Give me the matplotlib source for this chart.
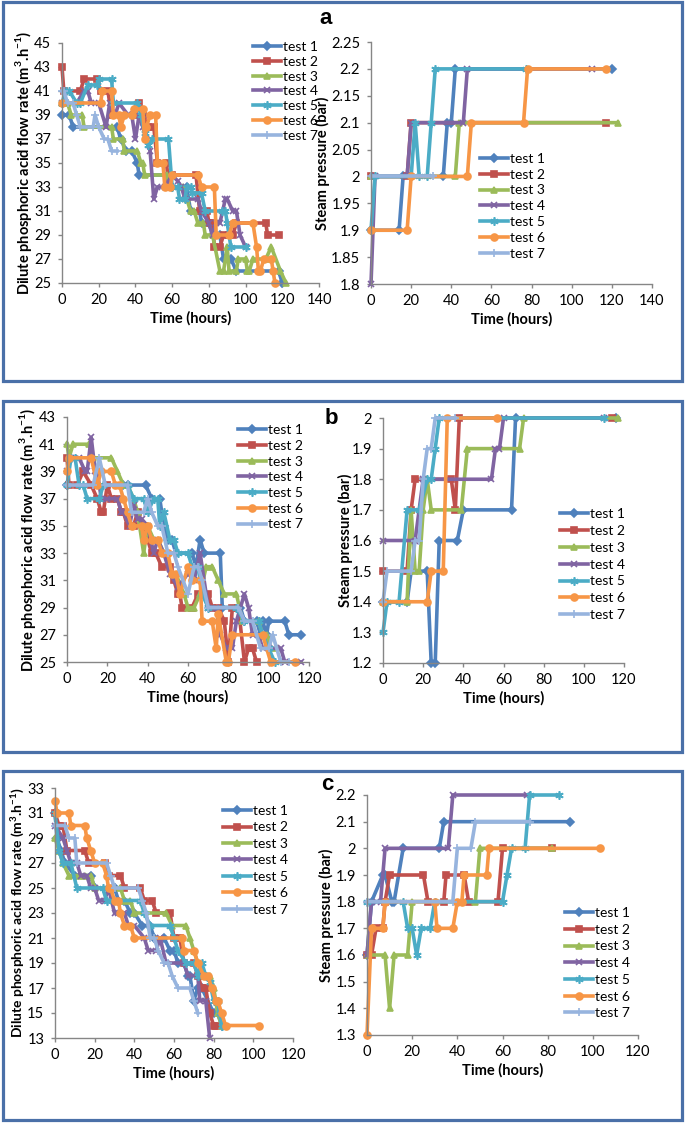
import matplotlib
matplotlib.use("Agg")
import matplotlib.pyplot as plt
from matplotlib.patches import Rectangle

plt.rcParams['font.family'] = ['Lato', 'DejaVu Sans']
plt.rcParams['mathtext.fontset'] = 'custom'
plt.rcParams['mathtext.rm'] = 'Lato'
plt.rcParams['mathtext.bf'] = 'Lato:bold'

W, H = 685, 1123

TESTS = ["test 1", "test 2", "test 3", "test 4", "test 5", "test 6", "test 7"]

# ---------------- Panel a : flow rate ----------------
A_FLOW_TIME = [
    [0, 4, 6, 30, 32, 35, 38, 41, 42, 58, 60, 68, 70, 75, 76, 80, 82, 86, 88, 92, 95, 118, 120],
    [0, 1, 10, 12, 19, 21, 25, 27, 39, 42, 44, 47, 50, 52, 57, 58, 60, 73, 75, 79, 80, 82, 83, 86, 88, 91, 93, 95, 111, 112, 118],
    [0, 3, 5, 11, 12, 27, 28, 33, 34, 41, 43, 44, 45, 57, 59, 66, 68, 70, 72, 74, 77, 78, 82, 86, 88, 90, 91, 95, 96, 100, 101, 102, 104, 111, 114, 119, 122],
    [0, 8, 12, 14, 16, 20, 24, 26, 29, 31, 36, 38, 40, 42, 44, 46, 48, 50, 52, 56, 60, 63, 65, 67, 74, 76, 80, 82, 84, 86, 89, 90, 93, 95, 97, 100],
    [0, 2, 4, 8, 10, 14, 19, 20, 27, 28, 41, 43, 45, 47, 49, 58, 60, 63, 64, 67, 68, 70, 71, 76, 78, 87, 89, 90, 92, 100],
    [0, 21, 22, 27, 28, 31, 32, 34, 38, 39, 44, 45, 46, 48, 51, 52, 55, 56, 59, 60, 74, 76, 83, 84, 91, 93, 104, 106, 107, 108, 110, 114, 115, 116],
    [0, 1, 3, 6, 8, 10, 17, 18, 20, 23, 25, 27, 30],
]
A_FLOW_VALUE = [
    [39, 39, 38, 38, 37, 36, 36, 35, 34, 34, 33, 33, 31, 31, 30, 30, 29, 29, 27, 27, 26, 26, 25],
    [43, 41, 41, 42, 42, 41, 41, 39, 39, 40, 39, 38, 38, 35, 35, 33, 34, 34, 31, 31, 30, 30, 28, 28, 29, 29, 29, 30, 30, 29, 29],
    [40, 40, 39, 39, 38, 38, 37, 37, 36, 36, 35, 35, 34, 34, 33, 33, 32, 31, 31, 30, 30, 29, 29, 26, 26, 28, 26, 26, 27, 27, 26, 26, 27, 27, 28, 26, 25],
    [40, 40, 41, 41, 40, 40, 38, 40, 39, 40, 39, 39, 37, 39, 38, 37, 36, 32, 33, 33, 34, 33.5, 33, 32, 32, 31, 30, 29, 30, 30, 32, 32, 31, 31, 29, 28],
    [40, 41, 41, 40, 40, 41.5, 41.5, 42, 42, 40, 40, 39, 37.5, 36.5, 37, 37, 33, 33, 32, 32, 33, 33, 32.5, 32.5, 31, 31, 31, 30, 28, 28],
    [40, 40, 41, 41, 39, 39, 38, 39, 39, 39.5, 39.5, 37, 38, 39, 39, 35, 35, 33, 33, 34, 34, 33, 33, 29, 29, 30, 30, 28, 26, 26, 27, 27, 26, 25],
    [41, 41, 40, 40, 39, 38, 38, 39, 38, 37, 37, 36, 36],
]

# ---------------- Panel a : steam pressure ----------------
A_STEAM_TIME = [
    [0, 14, 16, 36, 38, 40, 42, 120],
    [0, 18, 20, 117],
    [0, 42, 44, 123],
    [0, 2, 18, 20, 46, 48, 110],
    [0, 2, 20, 22, 24, 28, 30, 32, 77],
    [0, 18, 20, 48, 50, 76, 78, 117],
    [0, 31],
]
A_STEAM_VALUE = [
    [1.9, 1.9, 2.0, 2.0, 2.1, 2.1, 2.2, 2.2],
    [2.0, 2.0, 2.1, 2.1],
    [2.0, 2.0, 2.1, 2.1],
    [1.8, 2.0, 2.0, 2.1, 2.1, 2.2, 2.2],
    [1.9, 2.0, 2.0, 2.1, 2.0, 2.0, 2.1, 2.2, 2.2],
    [1.9, 1.9, 2.0, 2.0, 2.1, 2.1, 2.2, 2.2],
    [2.0, 2.0],
]

# ---------------- Panel b : flow rate ----------------
B_FLOW_TIME = [
    [0, 28, 30, 39, 42, 46, 48, 50, 52, 54, 62, 64, 66, 68, 76, 77, 86, 88, 94, 96, 97, 99, 100, 108, 110, 116],
    [0, 1, 5, 8, 12, 15, 17, 18, 20, 22, 25, 27, 28, 30, 33, 35, 38, 40, 42, 44, 47, 51, 53, 55, 56, 57, 62, 65, 70, 72, 75, 78, 80, 82, 85, 88, 90, 92, 94],
    [0, 1, 3, 11, 13, 22, 25, 28, 30, 33, 35, 38, 40, 43, 45, 48, 52, 55, 58, 60, 63, 66, 69, 72, 75, 78, 84, 87, 95, 97, 99, 101, 104],
    [0, 2, 6, 9, 10, 12, 14, 15, 17, 20, 25, 27, 28, 31, 33, 35, 37, 40, 43, 45, 48, 51, 55, 60, 63, 66, 70, 74, 76, 79, 82, 84, 88, 90, 92, 95, 97, 100, 106, 108, 116],
    [0, 2, 4, 6, 8, 10, 16, 18, 30, 33, 38, 40, 43, 45, 46, 48, 51, 53, 55, 60, 62, 65, 67, 70, 84, 88, 95, 97, 100, 103],
    [0, 1, 12, 15, 17, 22, 24, 26, 28, 30, 32, 37, 38, 40, 42, 45, 47, 50, 52, 54, 56, 60, 62, 66, 67, 72, 74, 75, 79, 80, 82, 97, 101, 113],
    [0, 13, 16, 19, 30, 32, 38, 40, 42, 45, 47, 50, 53, 55, 60, 63, 65, 67, 70, 85, 88, 92, 96, 100, 102, 106, 110],
]
B_FLOW_VALUE = [
    [38, 38, 38, 38, 37, 37, 35, 34, 34, 33, 33, 32, 34, 33, 33, 29, 29, 28, 28, 27, 28, 27, 28, 28, 27, 27],
    [40, 38, 38, 39, 38, 37, 36, 36, 38, 37, 37, 36, 36, 35, 35, 36, 35, 34, 33, 33, 32, 32, 31, 30, 30, 29, 29, 30, 30, 29, 29, 28, 25, 29, 29, 25, 26, 26, 25],
    [41, 40, 41, 41, 40, 40, 39, 38, 38, 37, 36, 33, 35, 34, 34, 33, 31.5, 31, 30, 29, 29, 30, 32, 32, 31, 30, 30, 28, 28, 27, 27, 26, 26],
    [39, 40, 40, 39, 39, 41.5, 39, 39, 37, 37, 37, 36, 36, 35, 36.5, 35.5, 35.5, 35, 33, 34, 33, 31.5, 30.5, 31.5, 31, 33, 29, 29, 27, 26, 26, 28, 30, 29, 27, 27, 26, 26, 26, 25, 25],
    [38, 40, 40, 38, 38, 37, 37, 38, 38, 37, 37, 36, 37, 37, 35, 36, 34, 34, 33, 33, 32, 32, 30, 29, 29, 28, 28, 27, 26, 25],
    [39, 40, 40, 38, 39, 39, 38, 38, 37, 36, 35, 35, 34, 35, 34, 34, 33, 33, 31.5, 31.5, 30, 32, 31, 31, 28, 28, 26, 28.5, 25, 25, 27, 27, 25, 25],
    [38, 38, 40, 38, 38, 36, 36, 37, 36, 35, 35, 33, 33, 32, 30, 32, 32, 31, 29, 29, 28, 28, 26, 26, 27, 25, 25],
]

# ---------------- Panel b : steam pressure ----------------
B_STEAM_TIME = [
    [0, 12, 14, 22, 24, 26, 28, 37, 40, 64, 66, 116],
    [0, 12, 14, 16, 34, 36, 38, 114],
    [0, 12, 14, 16, 18, 20, 22, 24, 39, 42, 68, 70, 117],
    [0, 16, 20, 54, 56, 58, 60, 110],
    [0, 2, 8, 12, 18, 22, 24, 26, 28, 110],
    [0, 22, 24, 30, 32, 57],
    [0, 2, 14, 16, 18, 20, 22, 24, 26, 36],
]
B_STEAM_VALUE = [
    [1.4, 1.4, 1.5, 1.5, 1.2, 1.2, 1.6, 1.6, 1.7, 1.7, 2.0, 2.0],
    [1.5, 1.5, 1.7, 1.8, 1.8, 1.7, 2.0, 2.0],
    [1.4, 1.4, 1.7, 1.5, 1.5, 1.7, 1.8, 1.7, 1.7, 1.9, 1.9, 2.0, 2.0],
    [1.6, 1.6, 1.8, 1.8, 1.9, 1.9, 2.0, 2.0],
    [1.3, 1.4, 1.4, 1.7, 1.7, 1.8, 1.8, 1.9, 2.0, 2.0],
    [1.4, 1.4, 1.5, 1.5, 2.0, 2.0],
    [1.4, 1.5, 1.5, 1.6, 1.6, 1.8, 1.9, 1.9, 2.0, 2.0],
]

# ---------------- Panel c : flow rate ----------------
C_FLOW_TIME = [
    [0, 1, 3, 5, 10, 18, 20, 30, 32, 35, 38, 40, 44, 48, 50, 55, 58, 60, 62, 65, 67, 68, 70, 72, 74, 80, 82, 84],
    [0, 2, 4, 6, 15, 17, 25, 27, 33, 35, 43, 45, 49, 51, 58, 60, 63, 65, 70, 72, 74, 76, 78, 80, 81],
    [0, 2, 4, 7, 12, 15, 18, 20, 33, 35, 38, 40, 56, 59, 66, 68, 70, 72, 75, 78, 80, 82, 84],
    [0, 4, 6, 8, 11, 13, 16, 18, 20, 22, 25, 27, 30, 32, 35, 37, 40, 45, 47, 51, 53, 56, 65, 67, 72, 73, 76, 78],
    [0, 2, 4, 8, 11, 24, 26, 43, 45, 48, 58, 60, 62, 66, 70, 72, 74, 76, 78, 80, 82, 83, 84],
    [0, 1, 7, 8, 15, 16, 18, 20, 24, 26, 27, 28, 30, 32, 33, 35, 38, 40, 64, 65, 70, 72, 75, 77, 79, 81, 82, 84, 86, 103],
    [0, 5, 7, 10, 11, 26, 28, 30, 42, 44, 46, 48, 50, 52, 55, 57, 59, 62, 68, 70, 72],
]
C_FLOW_VALUE = [
    [31, 29, 28, 27, 26, 26, 25, 25, 24, 24, 23, 23, 22, 22, 21, 21, 20, 20, 19, 19, 18, 18, 16, 17, 17, 15, 15, 14],
    [31, 30, 30, 28, 28, 27, 27, 26, 26, 25, 25, 24, 24, 23, 23, 21, 21, 19, 19, 18, 17, 17, 15, 14, 14],
    [29, 28, 27, 26, 26, 26, 26, 25, 25, 24, 24, 23, 23, 22, 22, 21, 20, 19, 18, 18, 17, 15, 14],
    [30, 29, 28, 27, 27, 26, 26, 25, 25, 24, 24, 25, 23, 23, 23, 22, 22, 21, 20, 20, 21, 19, 19, 18, 18, 16, 16, 13],
    [31, 28, 27, 27, 25, 25, 24, 24, 23, 22, 22, 21, 20, 19, 19, 18, 19, 18, 17.5, 16, 16, 15, 14],
    [32, 31, 31, 30, 30, 29, 28, 27, 27, 26, 25, 25, 24, 24, 23, 22, 22, 21, 21, 20, 20, 19, 18, 18, 17, 16, 16, 15, 14, 14],
    [30, 30, 29, 29, 27, 27, 26, 25, 25, 24, 23, 21, 21, 20, 19, 19, 18, 17, 17, 16, 15],
]

# ---------------- Panel c : steam pressure ----------------
C_STEAM_TIME = [
    [0, 2, 7, 8, 11, 12, 16, 32, 34, 90],
    [0, 2, 4, 7, 8, 10, 25, 27, 34, 35, 43, 45, 58, 60, 82],
    [0, 8, 10, 12, 18, 20, 48, 50, 82],
    [0, 2, 6, 8, 36, 38, 71],
    [0, 16, 18, 20, 22, 24, 28, 30, 60, 62, 64, 70, 72, 85],
    [0, 2, 7, 8, 30, 31, 38, 40, 42, 43, 53, 54, 103],
    [0, 38, 40, 46, 48, 72],
]
C_STEAM_VALUE = [
    [1.6, 1.8, 1.9, 1.9, 1.8, 1.8, 2.0, 2.0, 2.1, 2.1],
    [1.6, 1.6, 1.7, 1.7, 1.8, 1.9, 1.9, 1.8, 1.8, 1.9, 1.9, 1.8, 1.8, 2.0, 2.0],
    [1.6, 1.6, 1.4, 1.6, 1.6, 1.8, 1.8, 2.0, 2.0],
    [1.6, 1.8, 1.8, 2.0, 2.0, 2.2, 2.2],
    [1.8, 1.8, 1.7, 1.7, 1.6, 1.7, 1.7, 1.8, 1.8, 1.9, 2.0, 2.0, 2.2, 2.2],
    [1.3, 1.7, 1.7, 1.8, 1.8, 1.7, 1.7, 1.8, 1.8, 1.9, 1.9, 2.0, 2.0],
    [1.8, 1.8, 2.0, 2.0, 2.1, 2.1],
]

COLORS = ['#4F81BD', '#C0504D', '#9BBB59', '#8064A2', '#4BACC6', '#F79646', '#97B4DE']
MARKERS = ['D', 's', '^', 'x', (6, 2, 0), 'o', '+']
MSIZES = [4, 4.5, 5, 4.5, 6, 5, 6]

FLOW_LABEL = r'Dilute phosphoric acid flow rate (m$^{\mathbf{3}}$.h$^{\mathbf{-1}}$)'
STEAM_LABEL = 'Steam pressure (bar)'

fig = plt.figure(figsize=(W / 100, H / 100), dpi=100)

BORDER = '#4A70A8'
for (x0, y0, x1, y1) in [(3, 2, 682, 381), (3, 401, 682, 752), (3, 771, 682, 1120)]:
    fig.patches.append(Rectangle((x0 / W, 1 - y1 / H), (x1 - x0) / W, (y1 - y0) / H,
                                 transform=fig.transFigure, fill=False,
                                 edgecolor=BORDER, linewidth=2.3))


def make_axes(l, t, r, b):
    return fig.add_axes([l / W, 1 - b / H, (r - l) / W, (b - t) / H])


def draw(ax, times, values, xlim, xticks, ylim, yticks, ylabels, ylabel,
         ylabel_x, leg_x, leg_y, leg_sp, ylabel_fs=10.5):
    for i in range(7):
        ax.plot(times[i], values[i], color=COLORS[i], lw=2.6,
                marker=MARKERS[i], ms=MSIZES[i], mew=1.2, mec=COLORS[i],
                label=TESTS[i], clip_on=False)
    ax.set_xlim(*xlim)
    ax.set_ylim(*ylim)
    ax.set_xticks(xticks)
    ax.set_yticks(yticks)
    ax.set_yticklabels(ylabels)
    for s in ['top', 'right']:
        ax.spines[s].set_visible(False)
    for s in ['left', 'bottom']:
        ax.spines[s].set_color('#868686')
        ax.spines[s].set_linewidth(1.0)
    ax.tick_params(direction='out', length=3.2, width=1.0, color='#868686',
                   labelsize=10.5)
    ax.tick_params(axis='y', pad=4.5)
    ax.tick_params(axis='x', pad=4)
    ax.set_xlabel('Time (hours)', fontsize=10.5, fontweight='bold', labelpad=3)
    bb = ax.get_position()
    fig.text(ylabel_x / W, bb.y0 + bb.height / 2, ylabel, rotation=90,
             ha='center', va='center', fontsize=ylabel_fs, fontweight='bold')
    ax.legend(loc='upper left', bbox_to_anchor=(leg_x / W, 1 - leg_y / H),
              bbox_transform=fig.transFigure, frameon=False, fontsize=10,
              borderpad=0, borderaxespad=0, handlelength=2.05,
              handletextpad=0.1, labelspacing=leg_sp)


def fmt(vals, nd):
    out = []
    for v in vals:
        s = f"{v:.{nd}f}".rstrip('0').rstrip('.') if nd else f"{v:.0f}"
        out.append(s)
    return out


# panel a
ax = make_axes(62, 43, 319, 283)
yt = [25, 27, 29, 31, 33, 35, 37, 39, 41, 43, 45]
draw(ax, A_FLOW_TIME, A_FLOW_VALUE, (0, 140), range(0, 141, 20), (25, 45), yt,
     fmt(yt, 0), FLOW_LABEL, 24, 253, 41, 0.2)
ax = make_axes(371, 42, 652, 284)
yt = [1.8, 1.85, 1.9, 1.95, 2.0, 2.05, 2.1, 2.15, 2.2, 2.25]
draw(ax, A_STEAM_TIME, A_STEAM_VALUE, (0, 140), range(0, 141, 20), (1.8, 2.25), yt,
     fmt(yt, 2), STEAM_LABEL, 322, 480, 153, 0.27)

# panel b
ax = make_axes(67, 417, 309, 662)
yt = [25, 27, 29, 31, 33, 35, 37, 39, 41, 43]
draw(ax, B_FLOW_TIME, B_FLOW_VALUE, (0, 120), range(0, 121, 20), (25, 43), yt,
     fmt(yt, 0), FLOW_LABEL, 28, 238, 424, 0.27)
ax = make_axes(383, 418, 624, 663)
yt = [1.2, 1.3, 1.4, 1.5, 1.6, 1.7, 1.8, 1.9, 2.0]
draw(ax, B_STEAM_TIME, B_STEAM_VALUE, (0, 120), range(0, 121, 20), (1.2, 2.0), yt,
     fmt(yt, 1), STEAM_LABEL, 345, 560, 508, 0.35)

# panel c
ax = make_axes(55, 788, 293, 1038)
yt = [13, 15, 17, 19, 21, 23, 25, 27, 29, 31, 33]
draw(ax, C_FLOW_TIME, C_FLOW_VALUE, (0, 120), range(0, 121, 20), (13, 33), yt,
     fmt(yt, 0), FLOW_LABEL, 17, 223, 805, 0.32, ylabel_fs=10)
ax = make_axes(367, 795, 638, 1035)
yt = [1.3, 1.4, 1.5, 1.6, 1.7, 1.8, 1.9, 2.0, 2.1, 2.2]
draw(ax, C_STEAM_TIME, C_STEAM_VALUE, (0, 120), range(0, 121, 20), (1.3, 2.2), yt,
     fmt(yt, 1), STEAM_LABEL, 326, 565, 907, 0.34)

for letter, (x, y) in zip('abc', [(326, 18), (331, 418), (327, 784)]):
    fig.text(x / W, 1 - y / H, letter, fontsize=16, fontweight='bold',
             family='Liberation Sans', ha='center', va='center')

fig.savefig('out.png', dpi=100)
